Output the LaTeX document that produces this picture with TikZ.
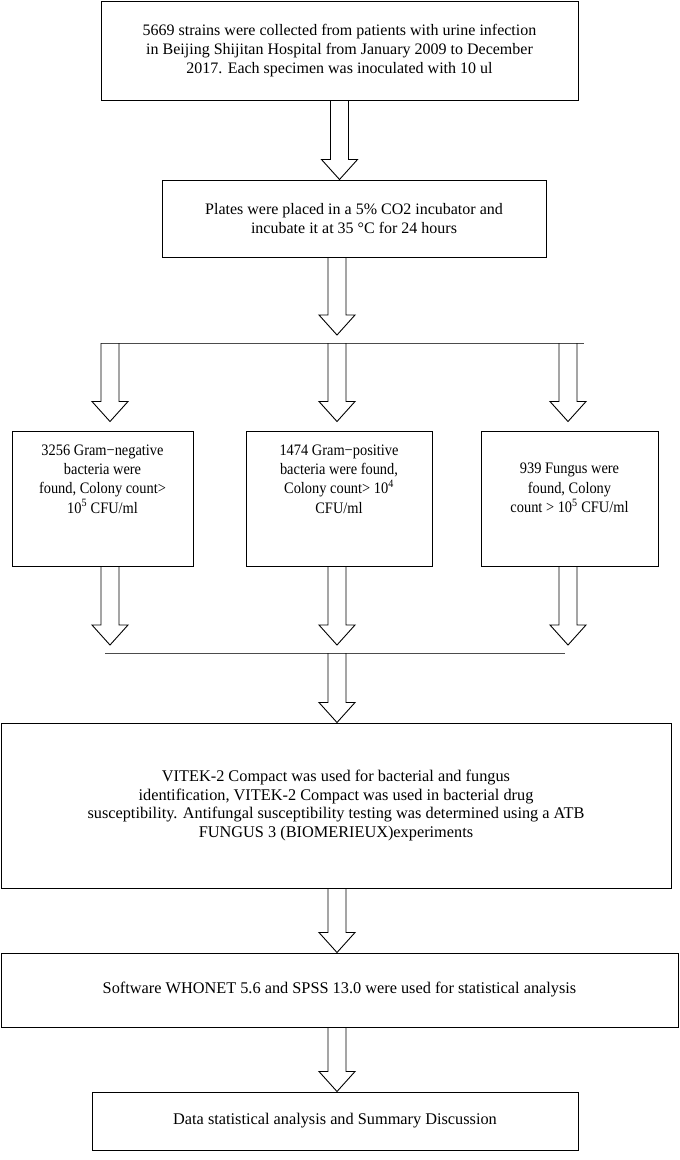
\documentclass[tikz,border=0pt]{standalone}
\usepackage{fontspec}
\setmainfont{Liberation Serif}
\newfontfamily\narrowserif[FakeStretch=0.9]{Liberation Serif}
\usetikzlibrary{calc}

\newcommand{\fatarrow}[3][0]{%
  \draw[fat] ($(#2)+(-9,0)$) -- ($(#3)+(-9,-20-#1)$) -- ($(#3)+(-18,-20-#1)$)
    -- ($(#3)+(0,-#1)$) -- ($(#3)+(18,-20-#1)$) -- ($(#3)+(9,-20-#1)$) -- ($(#2)+(9,0)$);}

\begin{document}
\begin{tikzpicture}[x=1pt, y=-1pt,
    box/.style={draw, rectangle, line width=1pt, align=center, inner sep=0pt,
      font=\fontsize{16}{19}\selectfont},
    txt/.style={align=center, inner sep=0pt,
      font=\narrowserif\fontsize{16}{19.3}\selectfont},
    fat/.style={line width=0.9pt, line join=miter},
    branch/.style={line width=0.9pt, black!70}]
    \useasboundingbox (0,0) rectangle (680,1160);

    \node[box, minimum width=477, minimum height=99] (collect) at (339.5,50.5)
      {5669 strains were collected from patients with urine infection\\
       in Beijing Shijitan Hospital from January 2009 to December\\
       2017. Each specimen was inoculated with 10 ul};
    \node[box, minimum width=384, minimum height=77] (plates) at (354,218.5)
      {Plates were placed in a 5\% CO2 incubator and\\
       incubate it at 35 °C for 24 hours};

    \coordinate (colL) at (110,0);
    \coordinate (colM) at (337,0);
    \coordinate (colR) at (568,0);
    \coordinate (splitL) at (101,343);
    \coordinate (splitR) at (584,343);
    \coordinate (mergeL) at (105,653);
    \coordinate (mergeR) at (565,653);

    \node[box, minimum width=181, minimum height=135] (gneg) at (102.5,498.5) {};
    \node[box, minimum width=186, minimum height=135] (gpos) at (339,498.5) {};
    \node[box, minimum width=177, minimum height=135] (fungus) at (569.5,498.5) {};
    \node[txt] (gnegtxt) at (gneg.center |- 0,479)
      {3256 Gram−negative\\ bacteria were\\ found, Colony count>\\ 10\textsuperscript{5} CFU/ml};
    \node[txt] (gpostxt) at (gpos.center |- 0,479)
      {1474 Gram−positive\\ bacteria were found,\\ Colony count> 10\textsuperscript{4}\\ CFU/ml};
    \node[txt] (fungustxt) at (fungus.center |- 0,488)
      {939 Fungus were\\ found, Colony\\ count > 10\textsuperscript{5} CFU/ml};

    \node[box, minimum width=670, minimum height=165, font=\fontsize{16.3}{18.5}\selectfont] (vitek) at (336,805.5)
      {VITEK-2 Compact was used for bacterial and fungus\\
       identification, VITEK-2 Compact was used in bacterial drug\\
       susceptibility. Antifungal susceptibility testing was determined using a ATB\\
       FUNGUS 3 (BIOMERIEUX)experiments};
    \node[box, minimum width=677, minimum height=74, font=\fontsize{16.3}{18.5}\selectfont] (whonet) at (339.5,990)
      {Software WHONET 5.6 and SPSS 13.0 were used for statistical analysis};
    \node[box, minimum width=486, minimum height=58, font=\fontsize{16.3}{18.5}\selectfont] (summary) at (335,1121)
      {Data statistical analysis and Summary Discussion};

    \draw[branch] (splitL) -- (splitR);
    \draw[branch] (mergeL) -- (mergeR);

    \fatarrow{collect.south}{plates.north -| collect.south}
    \fatarrow[8]{plates.south -| colM}{splitL -| colM}
    \fatarrow[9]{splitL -| colL}{gneg.north -| colL}
    \fatarrow[9]{splitL -| colM}{gpos.north -| colM}
    \fatarrow[9]{splitL -| colR}{fungus.north -| colR}
    \fatarrow[8]{gneg.south -| colL}{mergeL -| colL}
    \fatarrow[8]{gpos.south -| colM}{mergeL -| colM}
    \fatarrow[8]{fungus.south -| colR}{mergeL -| colR}
    \fatarrow{mergeL -| colM}{vitek.north -| colM}
    \fatarrow{vitek.south -| colM}{whonet.north -| colM}
    \fatarrow{whonet.south -| colM}{summary.north -| colM}
\end{tikzpicture}
\end{document}
